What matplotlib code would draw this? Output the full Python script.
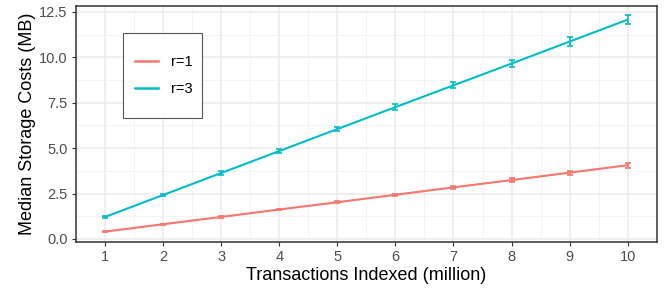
import numpy as np
import matplotlib.pyplot as plt
from matplotlib.ticker import MultipleLocator
from matplotlib.lines import Line2D
from matplotlib.patches import Rectangle

plt.rcParams['font.family'] = ['Liberation Sans', 'DejaVu Sans']

# data
tx = [1, 2, 3, 4, 5, 6, 7, 8, 9, 10]
r1 = [0.40, 0.81, 1.21, 1.62, 2.02, 2.43, 2.84, 3.24, 3.65, 4.06]
r1_err = [0.02, 0.03, 0.04, 0.05, 0.06, 0.07, 0.08, 0.09, 0.11, 0.14]
r3 = [1.21, 2.42, 3.63, 4.84, 6.05, 7.26, 8.46, 9.66, 10.87, 12.08]
r3_err = [0.05, 0.07, 0.09, 0.11, 0.13, 0.15, 0.17, 0.20, 0.23, 0.26]

series = [('r=1', r1, r1_err, '#F8766D'), ('r=3', r3, r3_err, '#00BFC4')]


def main():
	fig = plt.figure(figsize=(6.66, 2.88), dpi=100)
	ax = fig.add_axes([0.1141, 0.160, 0.872, 0.8205])

	for lab, ys, err, c in series:
		ax.errorbar(tx, ys, yerr=err, color=c, lw=1.5, capsize=2.2,
			capthick=1.2, elinewidth=1.2, zorder=3)

	ax.set_xlim(0.5, 10.5)
	ax.set_ylim(-0.165, 12.85)
	ax.set_xticks(tx)
	ax.yaxis.set_major_locator(MultipleLocator(2.5))
	ax.yaxis.set_major_formatter(plt.FuncFormatter(lambda v, p: '%.1f' % v))
	ax.xaxis.set_minor_locator(MultipleLocator(1, offset=0.5))
	ax.yaxis.set_minor_locator(MultipleLocator(2.5, offset=1.25))

	ax.grid(True, which='major', color='#EBEBEB', lw=1.1, zorder=0)
	ax.grid(True, which='minor', color='#F2F2F2', lw=0.6, zorder=0)
	ax.set_axisbelow(True)
	ax.tick_params(which='major', length=3, color='#333333', labelsize=10.5,
		labelcolor='#4D4D4D', pad=3)
	ax.tick_params(which='minor', length=0)
	for s in ax.spines.values():
		s.set_color('#333333')
		s.set_linewidth(1.1)

	ax.set_xlabel('Transactions Indexed (million)', fontsize=13, labelpad=2)
	ax.set_ylabel('Median Storage Costs (MB)', fontsize=13, labelpad=2)

	# legend box drawn by hand, ggplot-like
	box = Rectangle((0.081, 0.525), 0.136, 0.36, transform=ax.transAxes,
		facecolor='white', edgecolor='#555555', lw=0.8, zorder=4)
	ax.add_patch(box)
	handles = [Line2D([], [], color=c, lw=1.8) for _, _, _, c in series]
	labels = [lab for lab, _, _, _ in series]
	leg = ax.legend(handles, labels, loc='center', bbox_to_anchor=(0.151, 0.705),
		frameon=False, fontsize=10.5, handlelength=1.6, labelspacing=0.9,
		handletextpad=0.9, borderaxespad=0, borderpad=0)
	leg.set_zorder(5)

	fig.savefig('out.png', dpi=100)
	plt.close()


if __name__ == '__main__':
	main()
